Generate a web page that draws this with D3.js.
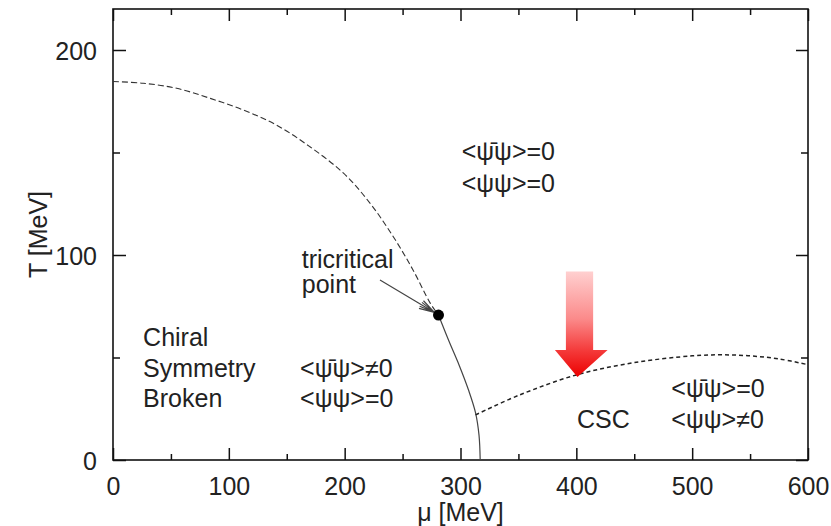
<!DOCTYPE html>
<html>
<head>
<meta charset="utf-8">
<script src="https://cdn.jsdelivr.net/npm/d3@7"></script>
<style>
  body { margin: 0; background: #fff; }
  text { font-family: "Liberation Sans", Arial, sans-serif; fill: #222; }
</style>
</head>
<body>
<div id="container"></div>
<script>
// crossover line (dashed) from mu=0 down to the tricritical point
var crossover = [
  [0, 184.6], [26, 183.8], [55, 181.3], [84, 176.4], [112.5, 170.7],
  [141, 163.4], [170, 152.8], [199, 139.9], [222, 125.2], [242, 108.9],
  [259, 92.7], [274, 76.4], [281, 70.7]
]
// first order line (solid) from the tricritical point to T=0
var firstOrder = [
  [281, 70.7], [290, 58], [299, 46], [307, 34], [313, 23], [316, 12], [317, 0]
]
// CSC boundary (dashed)
var cscLine = [
  [313, 22], [350, 31.5], [400, 41.5], [450, 47.5], [500, 50.8], [525, 51.3],
  [550, 50.8], [575, 49.3], [600, 46.5]
]
var tricritical = [281, 70.7]

var xMajor = [0, 100, 200, 300, 400, 500, 600]
var xMinor = [50, 150, 250, 350, 450, 550]
var yMajor = [0, 100, 200]
var yMinor = [50, 150]

// labels: [mu, T, text]
var labels = [
  [301, 146.3, '<ψ̄ψ>=0'],
  [301, 130.7, '<ψψ>=0'],
  [163, 93.7, 'tricritical'],
  [163, 81.5, 'point'],
  [26, 55.6, 'Chiral'],
  [26, 40.5, 'Symmetry'],
  [26, 25.9, 'Broken'],
  [161.5, 40.5, '<ψ̄ψ>≠0'],
  [161.5, 25.9, '<ψψ>=0'],
  [482, 30.9, '<ψ̄ψ>=0'],
  [482, 15.8, '<ψψ>≠0'],
  [400.5, 15.8, 'CSC']
]

// pointer from "point" to the tricritical dot
var pointer = [[230.5, 87.8], [277.5, 72]]
// big red arrow: shaft left/right, top, head left/right, head base, tip
var redArrow = { shaft: [391, 414.5], top: 92, head: [381.5, 427], base: 53.7, tip: [401, 40.5] }

var WIDTH = 831
var HEIGHT = 526

var x = d3.scaleLinear().domain([0, 600]).range([113, 808])
var y = d3.scaleLinear().domain([0, 220]).range([460, 9])

var svg = d3.select('div#container').append('svg')
  .attr('width', WIDTH)
  .attr('height', HEIGHT)

var defs = svg.append('defs')
var grad = defs.append('linearGradient')
  .attr('id', 'redgrad')
  .attr('x1', 0).attr('y1', 0).attr('x2', 0).attr('y2', 1)
grad.append('stop').attr('offset', '0%').attr('stop-color', '#ffd0d0')
grad.append('stop').attr('offset', '45%').attr('stop-color', '#fb8a8a')
grad.append('stop').attr('offset', '75%').attr('stop-color', '#f43a3a')
grad.append('stop').attr('offset', '100%').attr('stop-color', '#ec0000')

// axes, ticks inward on all four sides
var axStroke = '#111'
function tickAxis(axis, len) {
  return axis.tickSizeInner(-len).tickSizeOuter(0).tickPadding(0)
}

var gb = svg.append('g').attr('transform', 'translate(0,' + y(0) + ')')
  .call(d3.axisBottom(x).tickValues(xMajor).tickSizeInner(-12).tickSizeOuter(0).tickPadding(17))
var gbm = svg.append('g').attr('transform', 'translate(0,' + y(0) + ')')
  .call(tickAxis(d3.axisBottom(x).tickValues(xMinor).tickFormat(''), 6))
var gt = svg.append('g').attr('transform', 'translate(0,' + y(220) + ')')
  .call(tickAxis(d3.axisTop(x).tickValues(xMajor).tickFormat(''), 12))
var gtm = svg.append('g').attr('transform', 'translate(0,' + y(220) + ')')
  .call(tickAxis(d3.axisTop(x).tickValues(xMinor).tickFormat(''), 6))
var gl = svg.append('g').attr('transform', 'translate(' + x(0) + ',0)')
  .call(d3.axisLeft(y).tickValues(yMajor).tickSizeInner(-13).tickSizeOuter(0).tickPadding(16))
var glm = svg.append('g').attr('transform', 'translate(' + x(0) + ',0)')
  .call(tickAxis(d3.axisLeft(y).tickValues(yMinor).tickFormat(''), 7))
var gr = svg.append('g').attr('transform', 'translate(' + x(600) + ',0)')
  .call(tickAxis(d3.axisRight(y).tickValues(yMajor).tickFormat(''), 12))
var grm = svg.append('g').attr('transform', 'translate(' + x(600) + ',0)')
  .call(tickAxis(d3.axisRight(y).tickValues(yMinor).tickFormat(''), 7))

svg.selectAll('.domain').remove()
svg.selectAll('.tick line').attr('stroke', axStroke).attr('stroke-width', 1.5)
svg.selectAll('.tick text')
  .style('font-family', '"Liberation Sans", Arial, sans-serif')
  .style('font-size', '25px')
  .attr('fill', '#222')
gb.selectAll('.tick text').attr('dy', '0.71em')
gl.selectAll('.tick text').attr('dy', '0.36em')

// frame
svg.append('rect')
  .attr('x', x(0)).attr('y', y(220))
  .attr('width', x(600) - x(0)).attr('height', y(0) - y(220))
  .attr('fill', 'none').attr('stroke', axStroke).attr('stroke-width', 1.6)

// axis titles
svg.append('text')
  .attr('x', (x(0) + x(600)) / 2).attr('y', 521)
  .attr('text-anchor', 'middle')
  .style('font-size', '25px')
  .text('μ [MeV]')
svg.append('text')
  .attr('transform', 'translate(47,' + (y(0) + y(220)) / 2 + ') rotate(-90)')
  .attr('text-anchor', 'middle')
  .style('font-size', '25px')
  .text('T [MeV]')

var line = d3.line()
  .x(function (d) { return x(d[0]) })
  .y(function (d) { return y(d[1]) })
  .curve(d3.curveCatmullRom)

svg.append('path').datum(crossover)
  .attr('d', line)
  .attr('fill', 'none').attr('stroke', '#333').attr('stroke-width', 1.1)
  .attr('stroke-dasharray', '6,3')

svg.append('path').datum(firstOrder)
  .attr('d', line)
  .attr('fill', 'none').attr('stroke', '#444').attr('stroke-width', 1.2)

svg.append('path').datum(cscLine)
  .attr('d', line)
  .attr('fill', 'none').attr('stroke', '#222').attr('stroke-width', 1.5)
  .attr('stroke-dasharray', '4,3')

// red arrow
var ra = redArrow
var arrowPts = [
  [ra.shaft[0], ra.top], [ra.shaft[1], ra.top], [ra.shaft[1], ra.base],
  [ra.head[1], ra.base], ra.tip, [ra.head[0], ra.base], [ra.shaft[0], ra.base]
]
svg.append('path')
  .attr('d', d3.line().x(function (d) { return x(d[0]) }).y(function (d) { return y(d[1]) })(arrowPts) + 'Z')
  .attr('fill', 'url(#redgrad)')

// pointer arrow to the tricritical point
var p0 = [x(pointer[0][0]), y(pointer[0][1])]
var p1 = [x(pointer[1][0]), y(pointer[1][1])]
var ang = Math.atan2(p1[1] - p0[1], p1[0] - p0[0])
var hl = 16, ha = 0.28
var headD = ''
;[-ha, -ha / 2, ha / 2, ha].forEach(function (a) {
  headD += 'M' + p1[0] + ',' + p1[1] +
    'L' + (p1[0] - hl * Math.cos(ang + a)) + ',' + (p1[1] - hl * Math.sin(ang + a))
})
svg.append('path')
  .attr('d', 'M' + p0[0] + ',' + p0[1] + 'L' + p1[0] + ',' + p1[1] + headD)
  .attr('fill', 'none').attr('stroke', '#444').attr('stroke-width', 1.2)

svg.append('circle')
  .attr('cx', x(tricritical[0])).attr('cy', y(tricritical[1]))
  .attr('r', 5.5).attr('fill', '#000')

svg.selectAll('text.lab').data(labels).enter().append('text')
  .attr('class', 'lab')
  .attr('x', function (d) { return x(d[0]) })
  .attr('y', function (d) { return y(d[1]) })
  .style('font-size', '25px')
  .text(function (d) { return d[2] })
</script>
</body>
</html>
